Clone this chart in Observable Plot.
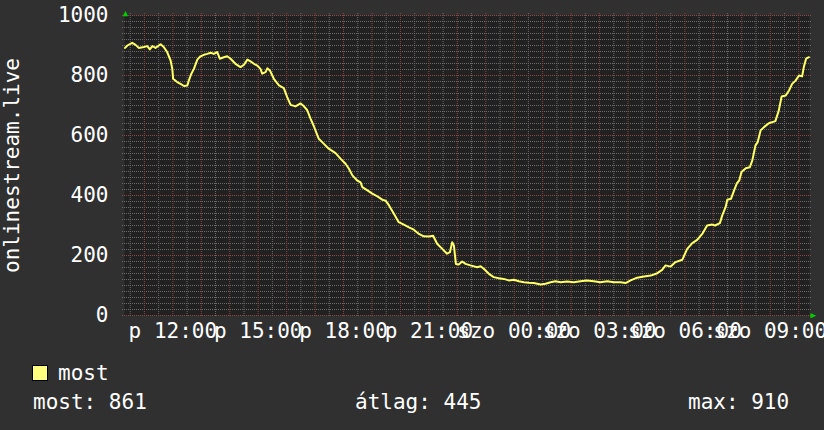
<!DOCTYPE html>
<html><head><meta charset="utf-8">
<script src="https://cdn.jsdelivr.net/npm/d3@7"></script>
<script src="https://cdn.jsdelivr.net/npm/@observablehq/plot@0.6"></script>
<style>
html,body{margin:0;padding:0;background:#303030;}
body{width:824px;height:430px;overflow:hidden;font-family:"DejaVu Sans Mono",monospace;color:#fff;}
#legend{position:relative;width:824px;height:80px;font-size:21px;line-height:21px;}
#legend div{position:absolute;white-space:pre;}
#legend .sw{width:14px;height:14px;border:1px solid #000;background:#ffff80;}
</style></head><body>
<div id="chart"></div>
<div id="legend"></div>
<script>
// hours since Friday 00:00
const hours = [10.32,10.40,10.57,10.69,10.80,10.98,11.10,11.19,11.28,11.39,
11.57,11.68,11.80,11.92,11.98,12.01,12.15,12.27,12.39,12.51,
12.56,12.65,12.74,12.86,12.97,13.09,13.21,13.33,13.44,13.56,
13.65,13.79,13.91,14.03,14.20,14.38,14.50,14.62,14.73,14.85,
14.97,15.08,15.14,15.26,15.32,15.41,15.55,15.73,15.90,16.02,
16.14,16.31,16.49,16.60,16.72,16.84,16.96,17.13,17.31,17.48,
17.72,17.90,18.07,18.19,18.31,18.48,18.60,18.66,18.84,19.01,
19.19,19.36,19.48,19.60,19.77,19.94,20.12,20.30,20.47,20.65,
20.82,21.00,21.15,21.29,21.47,21.64,21.74,21.82,21.88,21.95,
22.05,22.17,22.29,22.46,22.70,22.82,22.93,23.11,23.28,23.46,
23.63,23.81,23.99,24.16,24.34,24.51,24.69,24.93,25.10,25.28,
25.45,25.63,25.86,26.09,26.33,26.56,26.80,27.03,27.27,27.50,
27.74,27.91,28.09,28.32,28.56,28.80,29.03,29.20,29.32,29.50,
29.67,29.91,30.08,30.26,30.43,30.61,30.78,30.96,31.06,31.23,
31.31,31.43,31.49,31.62,31.73,31.83,31.91,31.99,32.14,32.28,
32.37,32.48,32.56,32.66,32.78,32.95,33.18,33.30,33.40,33.54,
33.66,33.77,33.89,34.01,34.12,34.18,34.26,34.36];
const values = [892,900,909,902,892,895,898,887,898,892,
904,895,878,850,822,789,778,772,765,767,
783,806,822,853,864,869,872,876,872,878,
856,861,864,856,839,828,836,853,847,839,
833,822,806,811,824,817,789,767,758,728,
702,697,707,698,685,656,630,589,572,556,
541,522,506,489,467,450,444,428,417,406,
397,386,383,367,339,311,303,294,286,272,
264,263,266,239,222,206,211,244,233,172,
170,180,172,167,161,164,156,139,128,124,
122,117,119,114,111,109,108,103,106,111,
114,111,113,111,114,117,114,111,114,111,
111,108,117,126,130,133,141,152,167,163,
178,186,222,241,252,272,300,303,300,308,
333,361,386,389,417,441,450,478,491,494,
517,567,578,617,628,641,648,683,730,733,
750,772,783,800,797,828,856,861];

const xDomain = [10.3, 34.38];
const xTicks = [12,15,18,21,24,27,30,33];
const xTickLabels = ["p 12:00","p 15:00","p 18:00","p 21:00","szo 00:00","szo 03:00","szo 06:00","szo 09:00"];
const yTicks = [0,200,400,600,800,1000];
const yTickLabels = ["0","200","400","600","800","1000"];
const yLabel = "onlinestream.live";
const seriesName = "most";
const statNames = ["most","átlag","max"];
const statValues = [861,445,910];

const data = hours.map((h,i) => ({h, v: values[i]}));
const minorY = d3.range(0, 1001, 20).filter(v => v % 200 !== 0);
const minorX = d3.range(10.5, xDomain[1], 1);
const majorX = d3.range(11, xDomain[1], 1);

const chart = Plot.plot({
  width: 824, height: 350,
  marginLeft: 124, marginRight: 15, marginTop: 15, marginBottom: 35,
  style: {background: "transparent", color: "#fff", fontFamily: "'DejaVu Sans Mono', monospace", fontSize: "21px"},
  x: {domain: xDomain, label: null},
  y: {domain: [0, 1000], label: null},
  marks: [
    Plot.frame({fill: "#212121", stroke: null}),
    Plot.ruleY(minorY, {stroke: "#6a6a6a", strokeDasharray: "1,1", insetLeft: -2, insetRight: -2}),
    Plot.ruleX(minorX, {stroke: "#6a6a6a", strokeDasharray: "1,1", insetTop: -2, insetBottom: -2}),
    Plot.ruleY(yTicks, {stroke: "#8c4646", strokeDasharray: "1,1", insetLeft: -2, insetRight: -2}),
    Plot.ruleX(majorX, {stroke: "#8c4646", strokeDasharray: "1,1", insetTop: -2, insetBottom: -2}),
    Plot.axisY({ticks: yTicks, tickSize: 0, tickPadding: 16, fill: "#fff", fontSize: 21, label: null,
      tickFormat: d => yTickLabels[yTicks.indexOf(d)]}),
    Plot.axisX({ticks: xTicks, tickSize: 0, tickPadding: 8, fill: "#fff", fontSize: 21, label: null,
      tickFormat: d => xTickLabels[xTicks.indexOf(d)]}),
    Plot.line(data, {x: "h", y: "v", stroke: "#ffff66", strokeWidth: 2}),
    Plot.text([yLabel], {frameAnchor: "left", rotate: -90, dx: -112, fill: "#fff", fontSize: 21, textAnchor: "middle"}),
    Plot.text(["▲"], {frameAnchor: "top-left", textAnchor: "middle", lineAnchor: "bottom", dx: 1, dy: 0, fill: "#00cc00", fontSize: 9}),
    Plot.text(["▶"], {frameAnchor: "bottom-right", textAnchor: "start", lineAnchor: "middle", dx: 1, fill: "#00cc00", fontSize: 9})
  ]
});
document.getElementById("chart").appendChild(chart);

const lg = document.getElementById("legend");
const sw = document.createElement("div"); sw.className = "sw";
sw.style.left = "32px"; sw.style.top = "15px"; lg.appendChild(sw);
const nm = document.createElement("div"); nm.textContent = seriesName;
nm.style.left = "58px"; nm.style.top = "13px"; lg.appendChild(nm);
const statX = [33, 355, 688];
statNames.forEach((n, i) => {
  const d = document.createElement("div");
  d.textContent = n + ": " + statValues[i];
  d.style.left = statX[i] + "px"; d.style.top = "41.5px";
  lg.appendChild(d);
});
</script>
</body></html>
